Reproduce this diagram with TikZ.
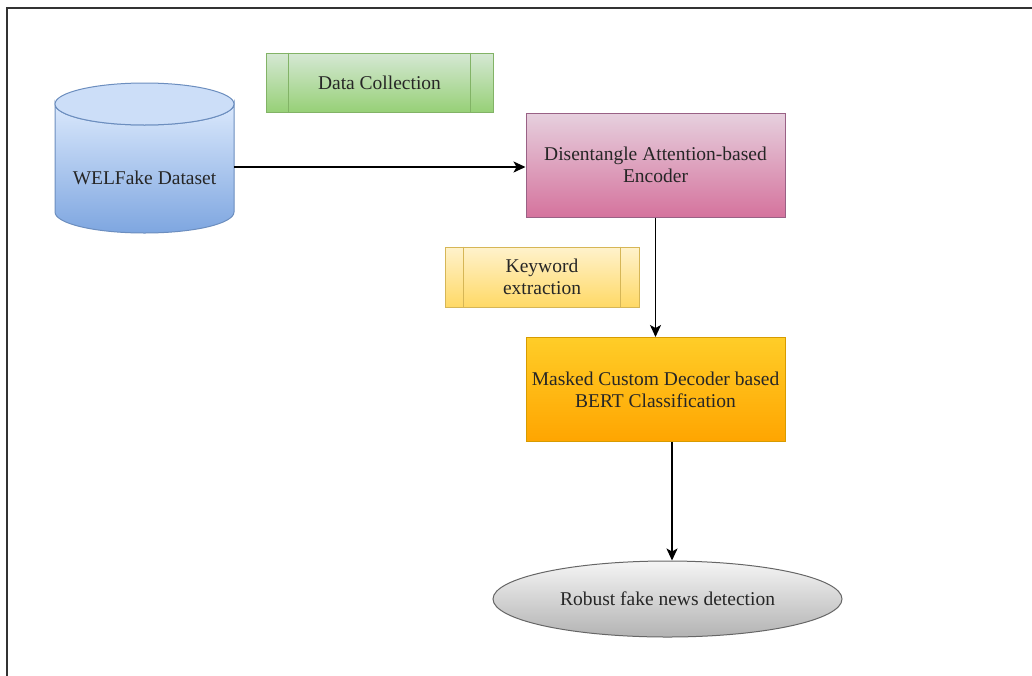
\documentclass[tikz,border=0pt]{standalone}
\usepackage{fontspec}
\setmainfont{Liberation Serif}
\usetikzlibrary{arrows.meta,shapes.geometric,calc}
\definecolor{blueT}{HTML}{DAE8FC}\definecolor{blueB}{HTML}{7EA6E0}\definecolor{blueD}{HTML}{6C8EBF}
\definecolor{grnT}{HTML}{D5E8D4}\definecolor{grnB}{HTML}{97D077}\definecolor{grnD}{HTML}{82B366}
\definecolor{pnkT}{HTML}{E6D0DE}\definecolor{pnkB}{HTML}{D5739D}\definecolor{pnkD}{HTML}{996185}
\definecolor{orgT}{HTML}{FFCD28}\definecolor{orgB}{HTML}{FFA500}\definecolor{orgD}{HTML}{D79B00}
\definecolor{ylwT}{HTML}{FFF2CC}\definecolor{ylwB}{HTML}{FFD966}\definecolor{ylwD}{HTML}{D6B656}
\definecolor{gryT}{HTML}{F5F5F5}\definecolor{gryB}{HTML}{B3B3B3}\definecolor{gryD}{HTML}{666666}
\begin{document}
\begin{tikzpicture}[x=1pt,y=-1pt,
  lbl/.style={font=\fontsize{19.5}{22}\selectfont, text=black!85, align=center},
  boxA/.style={lbl, rectangle, draw, line width=1pt, minimum width=259pt, minimum height=104pt, inner sep=0pt},
  procbox/.style={lbl, rectangle, draw, line width=1pt, inner sep=0pt},
  flow/.style={line width=1.5pt, -{Stealth[length=12pt,width=11pt,inset=3pt]}}
]
\useasboundingbox (0,0) rectangle (1032,675);
\fill[white] (0,0) rectangle (1032,675);
% frame
\draw[line width=2pt, black!80] (7,680) -- (7,8) -- (1040,8);

% cylinder
\path[top color=blueT, bottom color=blueB, draw=blueD, line width=1pt]
  (55,104) -- (55,212) arc[start angle=180,end angle=360,x radius=89.5,y radius=-21] -- (234,104)
  arc[start angle=0,end angle=-180,x radius=89.5,y radius=-21] -- cycle;
\draw[blueD, line width=1pt, fill=blueT!85!blueB] (144.5,104) ellipse[x radius=89.5, y radius=21];
\node[lbl] (ds) at (144.5,178) {WELFake Dataset};
\coordinate (dsR) at (234,167);

% data collection
\node[procbox, top color=grnT, bottom color=grnB, draw=grnD, minimum width=227pt, minimum height=59pt] (dc) at (379.5,82.5) {Data Collection};
\draw[grnD, line width=1pt] ($(dc.north west)+(23,0)$) -- ($(dc.south west)+(23,0)$)
  ($(dc.north east)+(-23,0)$) -- ($(dc.south east)+(-23,0)$);

% encoder
\node[boxA, top color=pnkT, bottom color=pnkB, draw=pnkD] (enc) at (655.5,165) {Disentangle Attention-based\\Encoder};

% keyword extraction
\node[procbox, top color=ylwT, bottom color=ylwB, draw=ylwD, minimum width=194pt, minimum height=60pt] (kw) at (542,277) {Keyword\\extraction};
\draw[ylwD, line width=1pt] ($(kw.north west)+(19,0)$) -- ($(kw.south west)+(19,0)$)
  ($(kw.north east)+(-19,0)$) -- ($(kw.south east)+(-19,0)$);

% decoder
\node[boxA, top color=orgT, bottom color=orgB, draw=orgD] (dec) at (655.5,389.5) {Masked Custom Decoder based\\BERT Classification};

% output ellipse
\node[lbl, ellipse, top color=gryT, bottom color=gryB, draw=gryD, line width=1pt, minimum width=349pt, minimum height=76pt, inner sep=0pt] (out) at (667.5,599) {Robust fake news detection};

% connectors
\draw[flow] (dsR) -- (enc.west |- dsR);
\draw[flow] (enc.south) -- (dec.north);
\coordinate (decB) at (672,442);
\draw[flow] (decB) -- (decB |- out.north);
\end{tikzpicture}
\end{document}
